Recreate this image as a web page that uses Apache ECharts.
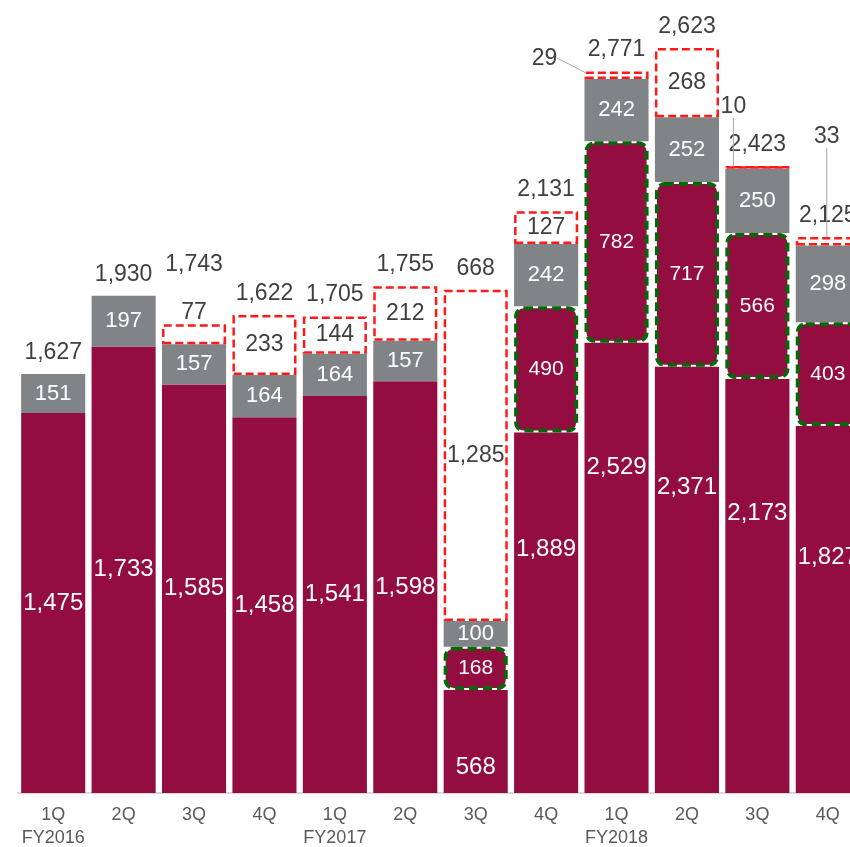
<!DOCTYPE html>
<html>
<head>
<meta charset="utf-8">
<script src="https://cdn.jsdelivr.net/npm/echarts@6/dist/echarts.min.js"></script>
<style>
    html, body { margin: 0; padding: 0; overflow: hidden; background: #fff; }
    #container { width: 880px; height: 847px; }
</style>
</head>
<body>
<div id="container"></div>
<script>
    // 分类（季度）
    var categories = ['1Q\nFY2016', '2Q', '3Q', '4Q', '1Q\nFY2017', '2Q', '3Q', '4Q', '1Q\nFY2018', '2Q', '3Q', '4Q'];
    // 酒红色部分（含绿框部分）
    var maroonValues = [1475, 1733, 1585, 1458, 1541, 1598, 568, 1889, 2529, 2371, 2173, 1827];
    // 绿色虚线框部分（属于酒红色的顶部）
    var greenValues = [0, 0, 0, 0, 0, 0, 168, 490, 782, 717, 566, 403];
    // 灰色部分
    var grayValues = [151, 197, 157, 164, 164, 157, 100, 242, 242, 252, 250, 298];
    // 红色虚线框部分
    var boxValues = [0, 0, 77, 233, 144, 212, 1285, 127, 29, 268, 10, 33];
    // 合计标签
    var totalValues = [1627, 1930, 1743, 1622, 1705, 1755, 668, 2131, 2771, 2623, 2423, 2125];

    var MAROON = '#930D40';
    var GRAY = '#808487';
    var DARK = '#404040';
    var FONT = 'Liberation Sans, Arial, sans-serif';

    function fmt(v) {
        return v.toLocaleString('en-US');
    }

    // 被挪开的小数值标签（带引导线）
    var movedBox = {
        8: [-72, -17],
        10: [-24, -61],
        11: [-1, -105]
    };

    var baseData = maroonValues.map(function (v, i) { return v - greenValues[i]; });
    var greenData = greenValues.map(function (v) { return v === 0 ? '-' : v; });
    var boxData = boxValues.map(function (v, i) {
        if (v === 0) return '-';
        if (i === 2) {
            return {value: v, label: {position: 'top', distance: 0}};
        }
        if (movedBox[i]) {
            return {value: v, labelLine: {show: true}};
        }
        return v;
    });
    var maroonLabelData = maroonValues.map(function (v, i) {
        if (i === 6) return {value: v, label: {offset: [0, 48]}};
        return v;
    });
    var topData = totalValues.map(function (t, i) {
        var v = maroonValues[i] + grayValues[i] + boxValues[i];
        if (i === 2) return {value: v, label: {offset: [0, -38]}};
        return v;
    });

    var chart = echarts.init(document.getElementById('container'));
    var option = {
        animation: false,
        textStyle: {fontFamily: FONT},
        grid: {left: 18, right: 17, top: 20, bottom: 54, containLabel: false, outerBoundsMode: 'none'},
        xAxis: {
            type: 'category',
            data: categories,
            axisTick: {show: false},
            axisLine: {lineStyle: {color: '#d9d9d9', width: 2}},
            axisLabel: {interval: 0, color: '#595959', fontSize: 18, lineHeight: 23, margin: 11, fontFamily: FONT}
        },
        yAxis: {
            type: 'value',
            min: 0,
            max: 3000,
            show: false,
            splitLine: {show: false}
        },
        series: [
            {
                name: 'base',
                type: 'bar',
                stack: 's',
                barCategoryGap: '9%',
                barGap: '-100%',
                itemStyle: {color: MAROON},
                data: baseData
            },
            {
                name: 'green',
                type: 'bar',
                stack: 's',
                z: 4,
                itemStyle: {
                    color: MAROON,
                    borderColor: '#0a650a',
                    borderWidth: 4,
                    borderType: [9, 5],
                    borderRadius: 8
                },
                label: {
                    show: true,
                    position: 'inside',
                    color: '#fff',
                    fontSize: 21,
                    fontFamily: FONT,
                    formatter: function (p) { return fmt(p.value); }
                },
                data: greenData
            },
            {
                name: 'gray',
                type: 'bar',
                stack: 's',
                itemStyle: {color: GRAY},
                label: {
                    show: true,
                    position: 'inside',
                    color: '#fff',
                    fontSize: 22,
                    fontFamily: FONT,
                    formatter: function (p) { return fmt(p.value); }
                },
                data: grayValues
            },
            {
                name: 'box',
                type: 'bar',
                stack: 's',
                z: 3,
                itemStyle: {
                    color: '#fff',
                    borderColor: '#ff1a1a',
                    borderWidth: 2.5,
                    borderType: [8, 4]
                },
                label: {
                    show: true,
                    position: 'inside',
                    color: DARK,
                    fontSize: 23,
                    fontFamily: FONT,
                    formatter: function (p) { return fmt(p.value); }
                },
                labelLine: {
                    show: false,
                    lineStyle: {color: '#a6a6a6', width: 1}
                },
                labelLayout: function (params) {
                    var m = movedBox[params.dataIndex];
                    if (m) return {dx: m[0], dy: m[1]};
                    return {};
                },
                data: boxData
            },
            {
                name: 'maroonLabel',
                type: 'bar',
                z: 5,
                barGap: '-100%',
                itemStyle: {color: 'rgba(0,0,0,0)'},
                label: {
                    show: true,
                    position: 'inside',
                    color: '#fff',
                    fontSize: 24,
                    fontFamily: FONT,
                    formatter: function (p) { return fmt(p.value); }
                },
                data: maroonLabelData
            },
            {
                name: 'total',
                type: 'bar',
                z: 1,
                barGap: '-100%',
                itemStyle: {color: 'rgba(0,0,0,0)'},
                label: {
                    show: true,
                    position: 'top',
                    distance: 10,
                    color: DARK,
                    fontSize: 23,
                    fontFamily: FONT,
                    formatter: function (p) { return fmt(totalValues[p.dataIndex]); }
                },
                data: topData
            }
        ]
    };
    chart.setOption(option, true);
</script>
</body>
</html>
